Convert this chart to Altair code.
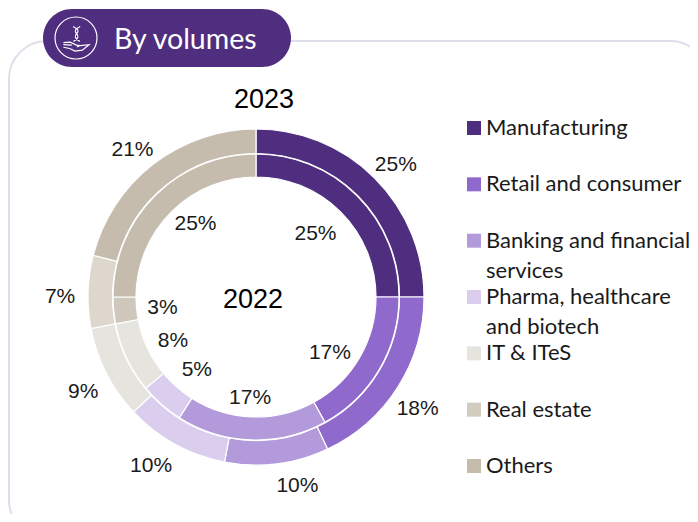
import altair as alt
import pandas as pd

categories = ["Manufacturing", "Retail and consumer", "Banking and financial services",
              "Pharma, healthcare and biotech", "IT & ITeS", "Real estate", "Others"]
legend_labels = ["Manufacturing", "Retail and consumer", "Banking and financial\nservices",
                 "Pharma, healthcare\nand biotech", "IT & ITeS", "Real estate", "Others"]
values_2023 = [25, 18, 10, 10, 9, 7, 21]
values_2022 = [25, 17, 17, 5, 8, 3, 25]
colors = ["#4F2D7F", "#9069CD", "#B39ADB", "#DACDEE", "#E6E4DE", "#D2CBC0", "#C6BCAD"]
colors_2023 = ["#4F2D7F", "#9069CD", "#B39ADB", "#DACDEE", "#E6E4DE", "#DDD7CE", "#C6BCAD"]
colors_2022 = ["#4F2D7F", "#9069CD", "#B39ADB", "#DACDEE", "#E6E4DE", "#CFC7BB", "#C6BCAD"]
nudge_2023 = [(2, 6), (-3, 8), (17, -4), (-11, -2), (1, 6), (-1, 6), (-4, 7)]
nudge_2022 = [(-7, 3), (-7, 8), (-3, 7), (3, 2), (2, 4), (0, 2), (6, -7)]

W, H = 682, 506
NUM_FONT = "Liberation Sans"
LEG_FONT = "Lato"
CX, CY = 256 - 8, 297 - 8


def ring(vals, cols):
    return pd.DataFrame({"cat": categories, "i": list(range(7)), "v": vals, "c": cols,
                         "label": [f"{v}%" for v in vals]})


theta = alt.Theta("v:Q", stack=True, scale=alt.Scale(domain=[0, 100], range=[0, 6.283185307]))
color = alt.Color("cat:N", scale=alt.Scale(domain=categories, range=colors), legend=None)
order = alt.Order("i:O")
cx, cy = alt.value(CX), alt.value(CY)


def arcs(vals, cols, r0, r1):
    return alt.Chart(ring(vals, cols)).mark_arc(innerRadius=r0, outerRadius=r1, stroke="white", strokeWidth=1.2).encode(
        theta=theta, fill=alt.Fill("c:N", scale=None), order=order, x=cx, y=cy)


def labels(vals, cols, r, nudges):
    parts = []
    for k, (dx, dy) in enumerate(nudges):
        parts.append(
            alt.Chart(ring(vals, cols)).transform_stack(
                as_=["s0", "s1"], stack="v", groupby=[], sort=[alt.SortField(field="i", order="ascending")]
            ).transform_calculate(mid="(datum.s0 + datum.s1) / 2").transform_filter(
                f"datum.i == {k}"
            ).mark_text(radius=r, font=NUM_FONT, fontSize=21, color="#1a1a1a",
                        baseline="middle", align="center", dx=dx, dy=dy).encode(
                theta=alt.Theta("mid:Q", scale=alt.Scale(domain=[0, 100], range=[0, 6.283185307])),
                text="label:N", x=cx, y=cy)
        )
    return alt.layer(*parts)


one = pd.DataFrame({"a": [0]})

frame = alt.Chart(one).mark_rect(fill="white", stroke="#E0DDEB", strokeWidth=2, cornerRadius=38).encode(
    x=alt.value(1), x2=alt.value(700), y=alt.value(33), y2=alt.value(530))
pill = alt.Chart(one).mark_rect(fill="#4F2D7F", cornerRadius=29).encode(
    x=alt.value(35), x2=alt.value(283), y=alt.value(1), y2=alt.value(59))
circle = alt.Chart(one).mark_point(shape="circle", size=1764, filled=False, stroke="white", strokeWidth=1.2, opacity=1).encode(
    x=alt.value(68), y=alt.value(30))
ICON = ("M-0.14,-0.55 Q0.22,-0.38 0.03,-0.2 Q-0.16,-0.02 0.18,0.16 "
        "M0.2,-0.55 Q-0.16,-0.38 0.03,-0.2 Q0.22,-0.02 -0.12,0.16 "
        "M-0.6,0.22 L-0.28,0.2 L0.02,0.34 L0.2,0.36 L0.05,0.42 M0.2,0.36 L0.62,0.32 L0.3,0.58 "
        "L-0.05,0.62 L-0.3,0.5 L-0.6,0.44 M-0.6,0.32 L-0.2,0.34")
icon = alt.Chart(one).mark_point(shape=ICON, size=1764, filled=False, stroke="white", strokeWidth=1.2, opacity=1).encode(
    x=alt.value(68), y=alt.value(30))
pill_text = alt.Chart(pd.DataFrame({"t": ["By volumes"]})).mark_text(
    font=LEG_FONT, fontSize=28.5, color="white", align="left", baseline="middle").encode(
    text="t:N", x=alt.value(106), y=alt.value(31.5))

year23 = alt.Chart(pd.DataFrame({"t": ["2023"]})).mark_text(font=NUM_FONT, fontSize=27, color="black", baseline="middle").encode(
    text="t:N", x=alt.value(264 - 8), y=alt.value(100 - 8))
year22 = alt.Chart(pd.DataFrame({"t": ["2022"]})).mark_text(font=NUM_FONT, fontSize=27, color="black", baseline="middle").encode(
    text="t:N", x=alt.value(253 - 8), y=alt.value(300 - 8))

leg_df = pd.DataFrame({"cat": categories, "label": legend_labels})
leg_y = alt.Y("cat:N", scale=alt.Scale(type="point", domain=categories, range=[120, 458], padding=0), axis=None)
leg_sq = alt.Chart(leg_df).mark_point(shape="square", size=196, filled=True, opacity=1).encode(
    x=alt.value(466), y=leg_y, color=color)
leg_tx = alt.Chart(leg_df).transform_calculate(lines="split(datum.label, '\\n')").mark_text(
    font=LEG_FONT, fontSize=22, color="#1a1a1a", align="left", baseline="top", lineHeight=30, dy=-10).encode(
    x=alt.value(478), y=leg_y, text="lines:N")

chart = alt.layer(
    frame, pill, circle, icon, pill_text,
    arcs(values_2023, colors_2023, 143.5, 168), arcs(values_2022, colors_2022, 120, 143),
    labels(values_2023, colors_2023, 195, nudge_2023), labels(values_2022, colors_2022, 94, nudge_2022),
    year23, year22, leg_sq, leg_tx,
).properties(
    width=W, height=H, padding=0, autosize=alt.AutoSizeParams(type="none"),
    background="white").configure_view(stroke=None)

chart.save("out.html", embed_options={"renderer": "svg", "actions": False})
